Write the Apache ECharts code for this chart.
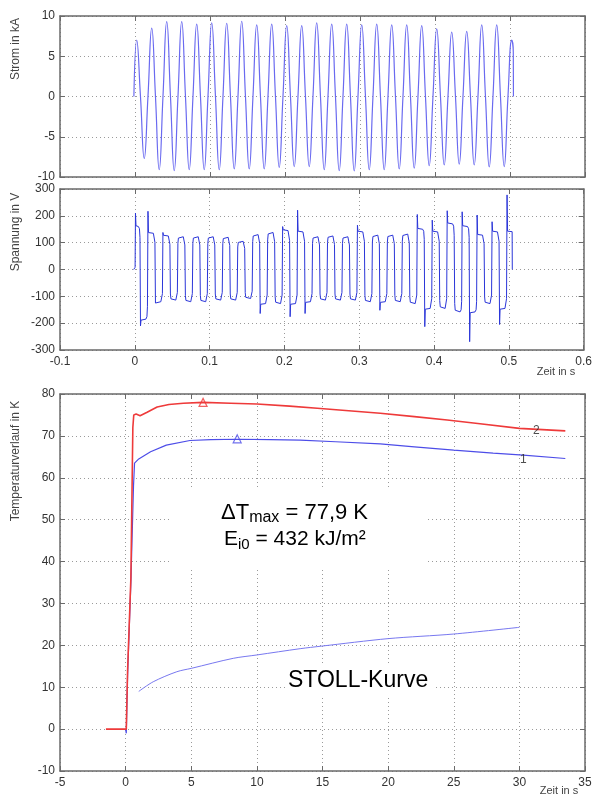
<!DOCTYPE html>
<html><head><meta charset="utf-8">
<script src="https://cdn.jsdelivr.net/npm/echarts@6/dist/echarts.min.js"></script>
<style>html,body{margin:0;padding:0;background:#fff}#c{width:595px;height:797px}</style>
</head><body><div id="c"></div>
<script>
// ---------- DATA ----------
// Strom (kA): alternating peak/trough values of each half cycle
const stromScheitel = [7.0,-7.7,8.5,-9.1,9.3,-9.2,9.3,-9.1,9.0,-9.1,9.15,-9.1,9.1,-9.0,9.35,-9.0,8.9,-9.0,9.0,-8.8,8.8,-8.7,8.8,-8.7,9.15,
  -9.1,9.0,-9.2,9.0,-9.25,8.9,-9.1,9.0,-9.1,8.9,-9.0,8.9,-8.9,8.8,-8.6,8.4,-8.5,8.0,-8.4,8.1,-8.5,8.9,-8.75,8.9,-8.7,7.0];
const stromStart = [-0.0015, 0];        // switch-on (t, I)
const ersterScheitelZeit = 0.0023;      // time of first peak (s)
const halbperiode = 0.01;               // 50 Hz
const stromEnde = [[0.5044, 5.5], [0.5046, 0]];

// Spannung (V): per half cycle, re-ignition spike and plateau level
const spannungSpitze = [210,-210,217,-125,138,-114,122,-120,122,-120,122,-114,120,-114,105,-108,135,-164,140,-127,160,-176,221,-164,122,-114,
  128,-114,122,-114,165,-120,128,-152,128,-120,135,-127,205,-213,184,-145,219,-158,215,-269,203,-127,178,-205,278];
const spannungPlateau = [160,-185,135,-120,125,-114,122,-120,122,-120,122,-114,120,-114,105,-108,130,-127,138,-127,145,-127,140,-120,122,-114,
  125,-114,122,-114,140,-120,128,-120,128,-120,132,-127,150,-145,140,-145,170,-158,160,-158,128,-127,140,-145,140];
const spannungEnde = [[0.5044, 141], [0.5046, 0]];

// Temperaturverlauf (K) vs Zeit (s)
const kurve2 = [[-1.5,0],[0.05,0],[0.15,14],[0.4,36],[0.55,72],[0.62,75],[0.8,75.2],[1.1,74.8],[1.6,75.6],[2.4,76.9],[3.3,77.5],[4.4,77.8],
  [5.9,78.0],[8,77.8],[10,77.6],[12.5,77.1],[14.6,76.6],[17,76.0],[19.4,75.4],[22,74.6],[24.5,73.8],[27,72.9],[30,71.8],[33.5,71.2]];
const kurve1 = [[0,0],[0.05,-1],[0.15,13],[0.4,35],[0.6,58],[0.68,63.5],[1.0,64.5],[1.9,66.2],[3.1,67.8],[4.9,68.9],[6.5,69.1],[8.5,69.2],
  [11,69.1],[13.3,69.0],[16,68.6],[19.4,68.1],[22,67.4],[25,66.6],[28,65.9],[30.3,65.4],[33.5,64.6]];
const stollKurve = [[1.0,9.0],[2.1,11.3],[3.9,13.7],[5,14.5],[8.2,16.9],[10,17.7],[13.3,19.2],[14.9,19.8],[20,21.6],[25,22.7],[30,24.3]];
const maxPunkte2 = [[5.9,78.0]];
const maxPunkte1 = [[8.5,69.3]];
const kurvenNamen = [{value:[31.3,71.3], name:'2'}, {value:[30.3,64.4], name:'1'}];

const stromTicks = {min:-10, max:10, interval:5};
const spannungTicks = {min:-300, max:300, interval:100};
const zeitTicksOben = {min:-0.1, max:0.6, interval:0.1};
const tempTicks = {min:-10, max:80, interval:10};
const zeitTicksUnten = {min:-5, max:35, interval:5};

// ---------- BUILD ----------
const strom = [stromStart];
for (let j = 0; j < stromScheitel.length; j++) {
  const t = ersterScheitelZeit + j * halbperiode;
  strom.push([t, stromScheitel[j]]);
  if (j < stromScheitel.length - 1) strom.push([t + halbperiode / 2, 0]);
}
stromEnde.forEach(p => strom.push(p));

const spannung = [[-0.0015, 0], [0.0004, 8]];
for (let j = 0; j < spannungPlateau.length; j++) {
  const s = j === 0 ? 0.0006 : ersterScheitelZeit + (j - 0.5) * halbperiode;
  const e = ersterScheitelZeit + (j + 0.5) * halbperiode;
  const P = spannungPlateau[j], S = spannungSpitze[j];
  const spike = Math.abs(S) > Math.abs(P) * 1.04;
  if (spike) {
    spannung.push([s + 0.0003, S]);
    spannung.push([s + 0.0010, P * 1.02]);
  } else {
    spannung.push([s + 0.0003, P * 0.8]);
    spannung.push([s + 0.0010, P * 0.96]);
  }
  spannung.push([s + 0.0025, P]);
  if (j < spannungPlateau.length - 1) {
    spannung.push([e - 0.0025, P]);
    spannung.push([e - 0.0011, P * 0.95]);
    spannung.push([e - 0.0004, P * 0.75]);
  }
}
spannungEnde.forEach(p => spannung.push(p));

const FONT = 'Liberation Sans, Arial, Helvetica, sans-serif';
const AX = '#6a6a6a';
const GRIDC = '#9a9a9a';

function xAxes(g, tk, labels) {
  const base = {gridIndex:g, type:'value', min:tk.min, max:tk.max, interval:tk.interval,
    axisLine:{show:true, onZero:false, lineStyle:{color:AX, width:1.5}},
    axisTick:{show:true, inside:true, length:5, lineStyle:{color:AX, width:1}}};
  return [
    Object.assign({}, base, {position:'bottom',
      axisLabel:{show:labels, color:'#333', fontSize:12, fontFamily:FONT, margin:6},
      splitLine:{show:true, lineStyle:{type:[1,3], color:GRIDC, width:1}}}),
    Object.assign({}, base, {position:'top', axisLabel:{show:false}, splitLine:{show:false}})
  ];
}
function yAxes(g, tk) {
  const base = {gridIndex:g, type:'value', min:tk.min, max:tk.max, interval:tk.interval,
    axisLine:{show:true, onZero:false, lineStyle:{color:AX, width:1.5}},
    axisTick:{show:true, inside:true, length:5, lineStyle:{color:AX, width:1}}};
  return [
    Object.assign({}, base, {position:'left',
      axisLabel:{show:true, color:'#333', fontSize:12, fontFamily:FONT, margin:5},
      splitLine:{show:true, lineStyle:{type:[1,3], color:GRIDC, width:1}}}),
    Object.assign({}, base, {position:'right', axisLabel:{show:false}, splitLine:{show:false}})
  ];
}

const chart = echarts.init(document.getElementById('c'), null, {renderer:'canvas'});
const nameStyle = {fill:'#444', font:'12px ' + FONT, align:'center', verticalAlign:'middle'};

chart.setOption({
  animation:false,
  backgroundColor:'#fff',
  grid:[
    {left:60, top:16, width:525, height:161},
    {left:60, top:189, width:525, height:161},
    {left:60, top:394, width:525, height:377}
  ],
  xAxis:[].concat(xAxes(0, zeitTicksOben, false), xAxes(1, zeitTicksOben, true), xAxes(2, zeitTicksUnten, true)),
  yAxis:[].concat(yAxes(0, stromTicks), yAxes(1, spannungTicks), yAxes(2, tempTicks)),
  series:[
    {type:'line', xAxisIndex:0, yAxisIndex:0, data:strom, showSymbol:false, smooth:0.5,
      lineStyle:{color:'#6a6af0', width:1.2}, z:3},
    {type:'line', xAxisIndex:2, yAxisIndex:2, data:spannung, showSymbol:false,
      lineStyle:{color:'#2b36d9', width:1}, z:3},
    {type:'line', xAxisIndex:4, yAxisIndex:4, data:kurve1, showSymbol:false,
      lineStyle:{color:'#4d4de8', width:1.2}, z:3},
    {type:'line', xAxisIndex:4, yAxisIndex:4, data:kurve2, showSymbol:false,
      lineStyle:{color:'#ee3a3a', width:1.6}, z:4},
    {type:'line', xAxisIndex:4, yAxisIndex:4, data:stollKurve, showSymbol:false, smooth:0.3,
      lineStyle:{color:'#7878f0', width:1}, z:3},
    {type:'scatter', xAxisIndex:4, yAxisIndex:4, data:maxPunkte2, symbol:'triangle', symbolSize:8,
      itemStyle:{color:'rgba(255,255,255,0)', borderColor:'#ee3a3a', borderWidth:1.2}, z:5},
    {type:'scatter', xAxisIndex:4, yAxisIndex:4, data:maxPunkte1, symbol:'triangle', symbolSize:8,
      itemStyle:{color:'rgba(255,255,255,0)', borderColor:'#4d4de8', borderWidth:1.2}, z:5},
    {type:'scatter', xAxisIndex:4, yAxisIndex:4, data:kurvenNamen, symbolSize:0,
      label:{show:true, position:'inside', formatter:p => p.name, color:'#222', fontSize:12, fontFamily:FONT}, z:6}
  ],
  graphic:[
    {type:'text', x:16, y:49, rotation:Math.PI/2, style:Object.assign({text:'Strom in kA'}, nameStyle)},
    {type:'text', x:16, y:232, rotation:Math.PI/2, style:Object.assign({text:'Spannung in V'}, nameStyle)},
    {type:'text', x:16, y:461, rotation:Math.PI/2, style:Object.assign({text:'Temperaturverlauf in K'}, nameStyle)},
    {type:'text', x:556, y:372, style:{text:'Zeit in s', fill:'#444', font:'11px ' + FONT, align:'center', verticalAlign:'middle'}},
    {type:'text', x:559, y:791, style:{text:'Zeit in s', fill:'#444', font:'11px ' + FONT, align:'center', verticalAlign:'middle'}},
    {type:'rect', shape:{x:170, y:487, width:258, height:83}, style:{fill:'#fff'}, z:1},
    {type:'rect', shape:{x:287, y:665, width:146, height:30}, style:{fill:'#fff'}, z:1},
    {type:'text', x:221, y:500, z:2, style:{text:'{a|ΔT}{b|max}{a| = 77,9 K}', align:'left', verticalAlign:'top',
      rich:{a:{fontSize:22, lineHeight:26, fontFamily:FONT, fill:'#000'}, b:{fontSize:16, lineHeight:12, verticalAlign:'bottom', fontFamily:FONT, fill:'#000'}}}},
    {type:'text', x:224, y:526, z:2, style:{text:'{a|E}{b|i0}{a| = 432 kJ/m²}', align:'left', verticalAlign:'top',
      rich:{a:{fontSize:21, lineHeight:26, fontFamily:FONT, fill:'#000'}, b:{fontSize:15, lineHeight:12, verticalAlign:'bottom', fontFamily:FONT, fill:'#000'}}}},
    {type:'text', x:288, y:681, z:2, style:{text:'STOLL-Kurve', fill:'#000', font:'23px ' + FONT, align:'left', verticalAlign:'middle'}}
  ]
});
</script></body></html>
